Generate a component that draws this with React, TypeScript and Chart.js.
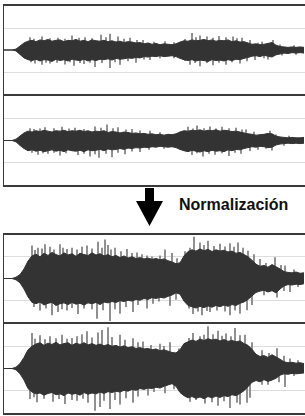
import React, { useEffect, useRef } from "react";
import { Chart, registerables } from "chart.js";

Chart.register(...registerables);

// Envelope samples: one value (amplitude in %) every SAMPLE_STEP time units
const SAMPLE_STEP = 4;
const TIME_MAX = 301;
const GRID_TICKS = [-50, 50];

// Panel A (original, channel 1)
const A_TOP = [
  0, 0, 0, 2, 9, 16, 20, 22, 19, 23,
  21, 24, 20, 22, 23, 19, 22, 21, 24, 20,
  22, 19, 23, 21, 20, 22, 19, 21, 18, 20,
  17, 19, 18, 16, 17, 14, 16, 13, 15, 12,
  14, 13, 12, 14, 18, 21, 20, 23, 21, 22,
  24, 21, 23, 20, 22, 21, 23, 19, 21, 18,
  19, 16, 13, 14, 12, 13, 15, 17, 11, 8,
  7, 6, 7, 6, 7, 6,
];
const A_BOTTOM = [
  0, 0, 0, -2, -10, -18, -22, -24, -21, -25,
  -22, -23, -26, -21, -24, -22, -25, -21, -23, -24,
  -21, -25, -22, -24, -21, -22, -20, -23, -19, -21,
  -20, -18, -19, -17, -18, -15, -16, -14, -15, -13,
  -15, -14, -13, -15, -19, -22, -24, -22, -25, -23,
  -24, -26, -22, -24, -23, -25, -22, -24, -21, -22,
  -19, -17, -14, -13, -15, -12, -14, -16, -11, -9,
  -7, -8, -6, -7, -6, -7,
];
const A_PEAK_UP_T = [26, 38, 54, 68, 81, 97, 106, 114, 126, 139, 161, 188, 196, 203, 215, 229, 238, 258, 269,
  30, 46, 61, 75, 88, 102, 120, 133, 150, 170, 181, 192, 209, 222, 233, 246, 254, 276, 290];
const A_PEAK_UP_V = [28, 30, 27, 32, 28, 34, 36, 30, 27, 22, 19, 38, 32, 30, 31, 30, 27, 18, 22,
  25, 26, 25, 27, 26, 28, 25, 22, 18, 17, 24, 28, 27, 28, 26, 22, 16, 12, 10];
const A_PEAK_DN_T = [31, 38, 46, 61, 70, 80, 91, 106, 116, 132, 146, 186, 196, 209, 222, 236, 251, 264,
  27, 42, 53, 66, 76, 86, 98, 111, 124, 140, 156, 170, 181, 191, 203, 215, 228, 243, 260, 278, 292];
const A_PEAK_DN_V = [-30, -33, -30, -32, -35, -31, -38, -40, -33, -28, -22, -33, -36, -34, -33, -30, -22, -21,
  -27, -28, -28, -27, -29, -28, -29, -27, -25, -21, -18, -18, -24, -29, -29, -28, -27, -25, -18, -12, -10];

// Panel B (original, channel 2)
const B_TOP = [
  0, 0, 0, 3, 10, 17, 21, 19, 22, 20,
  23, 21, 19, 22, 21, 23, 20, 22, 21, 23,
  20, 22, 19, 21, 20, 22, 18, 20, 19, 17,
  19, 18, 16, 17, 15, 16, 14, 15, 13, 14,
  12, 14, 13, 15, 19, 22, 21, 23, 22, 24,
  21, 23, 22, 24, 21, 23, 22, 20, 21, 19,
  17, 15, 14, 12, 13, 14, 16, 15, 10, 8,
  7, 6, 7, 6, 6, 7,
];
const B_BOTTOM = [
  0, 0, 0, -3, -11, -18, -23, -21, -24, -22,
  -25, -23, -21, -24, -22, -25, -21, -23, -24, -22,
  -25, -21, -23, -22, -20, -23, -19, -21, -20, -18,
  -20, -17, -18, -16, -17, -15, -16, -14, -15, -13,
  -14, -15, -14, -16, -20, -23, -25, -22, -24, -26,
  -23, -25, -22, -24, -23, -25, -21, -23, -20, -21,
  -18, -16, -14, -15, -13, -14, -16, -15, -10, -8,
  -7, -6, -7, -6, -7, -6,
];
const B_PEAK_UP_T = [26, 41, 58, 71, 91, 103, 114, 128, 146, 184, 193, 206, 218, 232, 242, 266,
  30, 36, 50, 65, 80, 97, 109, 122, 136, 156, 176, 189, 200, 212, 225, 238, 250, 272, 285];
const B_PEAK_UP_V = [27, 29, 30, 28, 31, 35, 29, 25, 21, 30, 33, 31, 30, 28, 24, 21,
  25, 26, 27, 26, 25, 28, 27, 24, 22, 18, 19, 26, 27, 26, 27, 24, 19, 13, 10];
const B_PEAK_DN_T = [34, 44, 56, 74, 86, 95, 108, 121, 136, 188, 199, 211, 225, 237, 254, 268,
  28, 39, 50, 62, 80, 91, 102, 114, 128, 145, 160, 176, 193, 205, 218, 231, 246, 262, 280];
const B_PEAK_DN_V = [-31, -29, -33, -32, -35, -38, -37, -30, -25, -32, -35, -31, -34, -29, -20, -22,
  -27, -28, -27, -28, -29, -30, -29, -27, -24, -20, -18, -19, -28, -29, -28, -27, -23, -18, -11];

// Panel C (normalized, channel 1)
const C_TOP = [
  0, 0, 0, 3, 9, 22, 40, 52, 56, 50,
  58, 53, 60, 55, 52, 59, 54, 57, 51, 58,
  55, 53, 59, 54, 57, 52, 55, 50, 53, 48,
  52, 47, 50, 46, 48, 45, 47, 44, 46, 43,
  45, 41, 38, 34, 36, 52, 62, 66, 63, 68,
  64, 67, 62, 66, 63, 65, 61, 63, 58, 60,
  55, 50, 42, 33, 28, 30, 26, 32, 27, 22,
  16, 14, 13, 15, 12, 13,
];
const C_BOTTOM = [
  0, 0, 0, -3, -10, -24, -42, -55, -58, -54,
  -61, -57, -55, -62, -58, -56, -60, -55, -59, -57,
  -61, -56, -58, -55, -60, -54, -56, -53, -55, -51,
  -53, -50, -52, -48, -50, -46, -48, -44, -46, -43,
  -45, -41, -38, -33, -36, -52, -62, -65, -68, -64,
  -67, -63, -66, -62, -65, -61, -64, -60, -62, -57,
  -54, -48, -40, -32, -29, -27, -31, -28, -33, -24,
  -17, -14, -15, -13, -14, -12,
];
const C_PEAK_UP_T = [28, 34, 41, 46, 56, 59, 68, 78, 83, 94, 101, 104, 111, 123, 133, 143, 161, 168, 181, 190, 196, 204, 216, 226, 234, 244, 256, 271, 281,
  31, 38, 50, 63, 73, 88, 98, 107, 117, 128, 138, 148, 156, 173, 186, 200, 210, 221, 230, 239, 250, 262, 277, 290];
const C_PEAK_UP_V = [75, 70, 78, 72, 78, 70, 70, 72, 75, 84, 89, 76, 70, 67, 59, 52, 66, 58, 62, 95, 82, 86, 79, 80, 82, 63, 44, 48, 29,
  65, 68, 66, 67, 66, 68, 70, 66, 62, 58, 55, 50, 52, 46, 70, 76, 74, 73, 72, 70, 55, 35, 30, 20];
const C_PEAK_DN_T = [36, 48, 54, 63, 74, 93, 106, 116, 129, 143, 149, 166, 189, 198, 206, 226, 236, 243, 273, 286,
  30, 42, 58, 68, 80, 88, 99, 111, 122, 134, 155, 172, 185, 194, 203, 213, 221, 231, 248, 260, 280, 294];
const C_PEAK_DN_V = [-73, -84, -76, -73, -81, -92, -97, -80, -76, -68, -57, -62, -81, -84, -76, -84, -80, -72, -43, -30,
  -65, -68, -70, -67, -68, -70, -72, -70, -65, -60, -52, -48, -68, -75, -74, -73, -75, -73, -60, -38, -28, -19];

// Panel D (normalized, channel 2)
const D_TOP = [
  0, 0, 0, 3, 11, 25, 42, 50, 55, 58,
  52, 57, 54, 59, 53, 56, 58, 52, 57, 54,
  58, 53, 56, 52, 55, 51, 54, 50, 52, 48,
  51, 47, 49, 45, 47, 44, 45, 42, 44, 40,
  42, 39, 36, 35, 42, 56, 60, 64, 61, 66,
  63, 67, 64, 66, 62, 65, 61, 63, 60, 62,
  56, 52, 43, 32, 27, 29, 25, 31, 26, 21,
  15, 13, 14, 12, 13, 11,
];
const D_BOTTOM = [
  0, 0, 0, -3, -12, -26, -45, -53, -57, -55,
  -60, -56, -54, -59, -57, -61, -55, -58, -56, -60,
  -54, -58, -55, -57, -53, -56, -52, -54, -51, -53,
  -49, -51, -47, -49, -45, -47, -44, -45, -42, -44,
  -40, -37, -34, -40, -54, -61, -66, -63, -67, -64,
  -68, -63, -66, -62, -65, -61, -63, -59, -61, -56,
  -50, -41, -31, -27, -30, -25, -29, -26, -22, -15,
  -12, -13, -11, -12, -11, -10,
];
const D_PEAK_UP_T = [28, 36, 46, 58, 73, 78, 83, 94, 98, 104, 116, 129, 139, 156, 166, 189, 196, 204, 214, 222, 231, 241, 258, 273, 286,
  31, 41, 52, 63, 68, 88, 108, 121, 134, 147, 160, 175, 185, 200, 209, 218, 227, 236, 248, 265, 280, 294];
const D_PEAK_UP_V = [79, 74, 72, 75, 72, 76, 83, 80, 86, 92, 75, 67, 60, 55, 58, 79, 72, 94, 84, 78, 90, 75, 40, 45, 22,
  66, 65, 67, 66, 68, 69, 70, 64, 58, 52, 50, 44, 68, 75, 76, 73, 72, 74, 58, 34, 28, 18];
const D_PEAK_DN_T = [26, 33, 49, 61, 73, 84, 91, 96, 106, 116, 129, 144, 161, 186, 201, 214, 226, 236, 243, 264, 281,
  30, 40, 55, 68, 79, 100, 111, 122, 134, 150, 170, 181, 192, 208, 220, 233, 246, 258, 275, 290];
const D_PEAK_DN_V = [-68, -75, -74, -79, -72, -76, -94, -86, -90, -80, -76, -60, -55, -74, -78, -83, -88, -80, -76, -36, -41,
  -64, -67, -68, -70, -67, -72, -70, -66, -62, -52, -46, -52, -70, -75, -73, -76, -65, -36, -30, -16];

const LABEL = "Normalización";

const WAVE = "#333333";
const PEAK = "#7a7a7a";
const GRID = "#dedede";
const FRAME = "#3a3a3a";

type PanelProps = {
  top: number;
  height: number;
  upper: number[];
  lower: number[];
  upT: number[];
  upV: number[];
  dnT: number[];
  dnV: number[];
};

function WavePanel({ top, height, upper, lower, upT, upV, dnT, dnV }: PanelProps) {
  const ref = useRef<HTMLCanvasElement | null>(null);
  useEffect(() => {
    if (!ref.current) return;
    const toPts = (arr: number[]) => arr.map((v, i) => ({ x: i * SAMPLE_STEP, y: v }));
    const peaks = [
      ...upT.map((t, k) => ({ x: t, y: [0, upV[k]] })),
      ...dnT.map((t, k) => ({ x: t, y: [dnV[k], 0] })),
    ];
    const chart = new Chart(ref.current, {
      type: "line",
      data: {
        datasets: [
          {
            type: "line",
            data: toPts(upper),
            borderColor: WAVE,
            backgroundColor: WAVE,
            borderWidth: 1,
            pointRadius: 0,
            tension: 0,
            fill: "+1",
            order: 1,
          },
          {
            type: "line",
            data: toPts(lower),
            borderColor: WAVE,
            backgroundColor: WAVE,
            borderWidth: 1,
            pointRadius: 0,
            tension: 0,
            fill: false,
            order: 1,
          },
          {
            type: "bar",
            data: peaks as any,
            backgroundColor: PEAK,
            borderWidth: 0,
            barThickness: 1,
            order: 2,
          },
        ],
      } as any,
      options: {
        animation: false,
        responsive: false,
        maintainAspectRatio: false,
        layout: { padding: 0 },
        plugins: { legend: { display: false }, tooltip: { enabled: false } },
        scales: {
          x: {
            type: "linear",
            min: 0,
            max: TIME_MAX,
            offset: false,
            display: false,
            grid: { offset: false },
          },
          y: {
            min: -100,
            max: 100,
            display: true,
            ticks: { display: false },
            grid: { color: GRID, lineWidth: 1, drawTicks: false },
            border: { display: false },
            afterBuildTicks: (s: any) => {
              s.ticks = GRID_TICKS.map((v) => ({ value: v }));
            },
          },
        },
      } as any,
    });
    return () => chart.destroy();
  }, []);
  return (
    <canvas
      ref={ref}
      width={301}
      height={height}
      style={{ position: "absolute", left: 4, top, width: 301, height }}
    />
  );
}

const line = (left: number, top: number, width: number, height: number) => (
  <div style={{ position: "absolute", left, top, width, height, background: FRAME }} />
);

export default function App() {
  return (
    <div
      style={{
        position: "absolute",
        left: 0,
        top: 0,
        width: 305,
        height: 416,
        overflow: "hidden",
        background: "#fff",
      }}
    >
      <WavePanel top={6} height={88} upper={A_TOP} lower={A_BOTTOM} upT={A_PEAK_UP_T} upV={A_PEAK_UP_V} dnT={A_PEAK_DN_T} dnV={A_PEAK_DN_V} />
      <WavePanel top={96} height={89} upper={B_TOP} lower={B_BOTTOM} upT={B_PEAK_UP_T} upV={B_PEAK_UP_V} dnT={B_PEAK_DN_T} dnV={B_PEAK_DN_V} />
      <WavePanel top={235} height={87} upper={C_TOP} lower={C_BOTTOM} upT={C_PEAK_UP_T} upV={C_PEAK_UP_V} dnT={C_PEAK_DN_T} dnV={C_PEAK_DN_V} />
      <WavePanel top={324} height={89} upper={D_TOP} lower={D_BOTTOM} upT={D_PEAK_UP_T} upV={D_PEAK_UP_V} dnT={D_PEAK_DN_T} dnV={D_PEAK_DN_V} />

      {line(3, 4, 302, 2)}
      {line(3, 94, 302, 2)}
      {line(3, 185, 302, 2)}
      {line(3, 4, 1, 183)}

      {line(3, 233, 302, 2)}
      {line(3, 322, 302, 2)}
      {line(3, 413, 302, 2)}
      {line(3, 233, 1, 182)}

      <svg
        width={28}
        height={41}
        style={{ position: "absolute", left: 136, top: 187 }}
      >
        <polygon points="9,1 18,1 18,14 27,14 13.5,39 0,14 9,14" fill="#000" />
      </svg>
      <div
        style={{
          position: "absolute",
          left: 179,
          top: 197,
          fontFamily: "'Liberation Sans', Arial, sans-serif",
          fontWeight: "bold",
          fontSize: 16,
          lineHeight: "16px",
          color: "#111",
          whiteSpace: "nowrap",
        }}
      >
        {LABEL}
      </div>
    </div>
  );
}
